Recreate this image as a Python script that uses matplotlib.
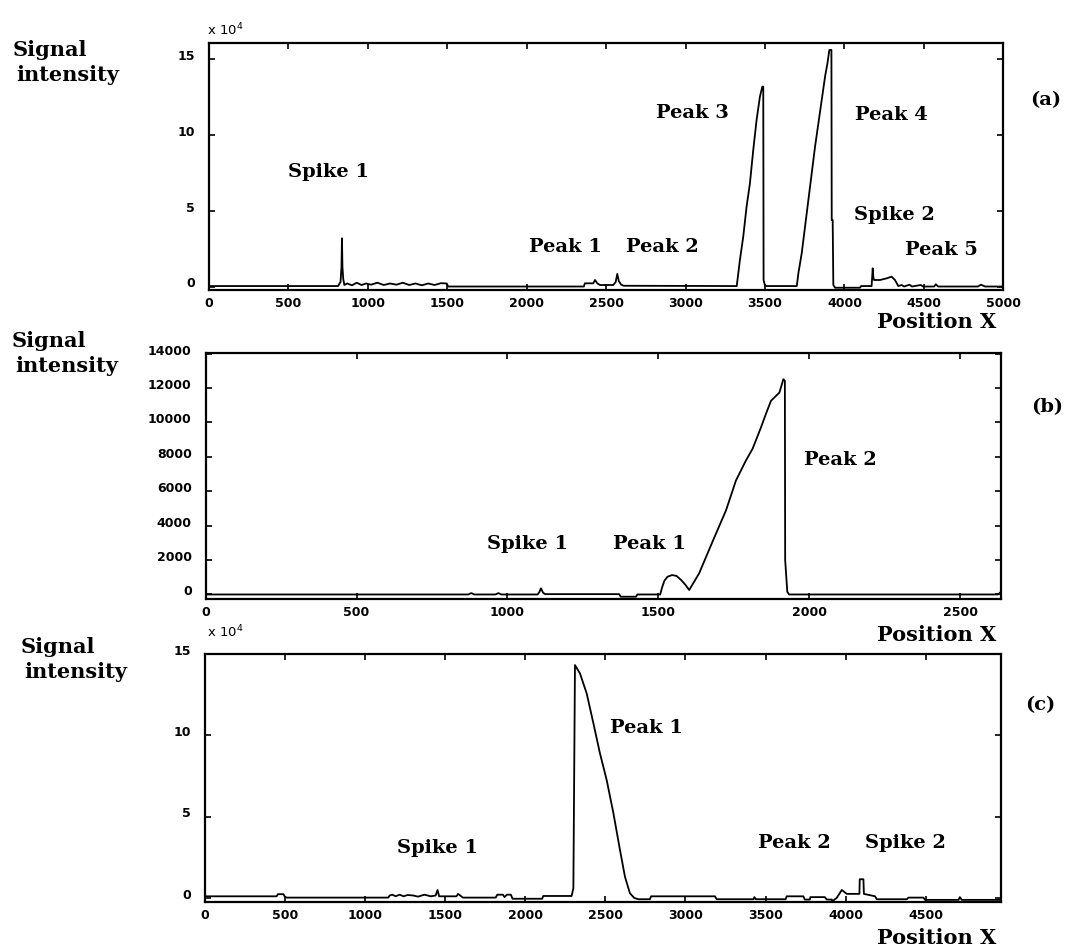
import matplotlib
matplotlib.use("Agg")
import matplotlib.pyplot as plt
import matplotlib.transforms as mtransforms

W, H = 1066, 949

# ---- panel (a): signal intensity in units of 1e4 ----
a_pos = [0, 812, 828, 834, 837, 840, 845, 852, 870, 900, 930, 960, 990, 1020,
         1060, 1100, 1140, 1180, 1220, 1260, 1300, 1340, 1380, 1420, 1460, 1497,
         1505, 2360, 2366, 2419, 2430, 2445, 2461, 2545, 2560, 2570, 2580, 2595,
         2610, 3322, 3342, 3363, 3384, 3405, 3426, 3447, 3468, 3483, 3489, 3491,
         3500, 3511, 3700, 3710, 3731, 3752, 3773, 3794, 3815, 3836, 3857, 3878,
         3893, 3905, 3918, 3920, 3926, 3930, 3941, 4098, 4105, 4171, 4178, 4182,
         4186, 4224, 4266, 4297, 4318, 4339, 4360, 4375, 4410, 4425, 4480, 4495,
         4565, 4575, 4590, 4840, 4860, 4885, 5000]
a_sig = [0.03, 0.03, 0.3, 1.3, 3.18, 1.31, 0.5, 0.1, 0.2, 0.08, 0.25, 0.1, 0.2, 0.12,
         0.25, 0.1, 0.2, 0.12, 0.25, 0.1, 0.2, 0.08, 0.2, 0.1, 0.22, 0.2,
         0.0, 0.0, 0.21, 0.21, 0.43, 0.2, 0.1, 0.1, 0.3, 0.83, 0.35, 0.12,
         0.05, 0.03, 1.75, 3.29, 5.27, 6.81, 9.01, 10.99, 12.53, 13.19, 13.19, 0.43,
         0.05, 0.03, 0.03, 0.87, 2.19, 3.95, 5.71, 7.47, 9.23, 10.77, 12.31, 13.85,
         14.73, 15.61, 15.61, 4.39, 4.39, 0.1, -0.08, -0.08, 0.03, 0.03, 1.2, 0.6,
         0.43, 0.43, 0.54, 0.65, 0.43, 0.03, 0.1, 0.0, 0.12, 0.0, 0.1, 0.0,
         0.0, 0.15, 0.0, 0.0, 0.12, 0.0, 0.0]
a_labels = [("Spike 1", 751, 7.58), ("Peak 1", 2246, 2.63), ("Peak 2", 2855, 2.63),
            ("Peak 3", 3044, 11.43), ("Peak 4", 4297, 11.32),
            ("Spike 2", 4312, 4.72), ("Peak 5", 4612, 2.41)]

# ---- panel (b): signal intensity, raw counts ----
b_pos = [0, 870, 880, 890, 960, 970, 980, 1100, 1106, 1111, 1118, 1125, 1370, 1375,
         1426, 1430, 1506, 1512, 1520, 1530, 1545, 1560, 1575, 1590, 1602, 1635,
         1679, 1724, 1757, 1790, 1812, 1840, 1856, 1873, 1901, 1914, 1919, 1920,
         1927, 1933, 2625, 2635]
b_sig = [0, 0, 80, 0, 0, 80, 0, 0, 150, 360, 100, 20, 20, -130,
         -130, 0, 0, 400, 800, 1030, 1130, 1080, 850, 550, 260, 1230,
         3060, 4890, 6630, 7790, 8470, 9720, 10490, 11260, 11740, 12520, 12420, 2000,
         160, 0, 0, 150]
b_labels = [("Spike 1", 1068, 2960), ("Peak 1", 1469, 2960), ("Peak 2", 2102, 7790)]

# ---- panel (c): signal intensity in units of 1e4 ----
c_pos = [0, 447, 455, 490, 497, 509, 1144, 1153, 1170, 1190, 1215, 1240, 1265, 1300,
         1330, 1370, 1410, 1440, 1452, 1462, 1570, 1580, 1600, 1610, 1815, 1825,
         1860, 1870, 1885, 1910, 1920, 2105, 2112, 2289, 2300, 2310, 2341, 2383,
         2425, 2466, 2508, 2550, 2591, 2622, 2653, 2680, 2706, 2778, 2785, 3184,
         3195, 3425, 3430, 3440, 3625, 3632, 3736, 3745, 3776, 3780, 3870, 3882,
         3914, 3917, 3930, 3944, 3976, 4007, 4059, 4086, 4088, 4111, 4114, 4184,
         4194, 4382, 4392, 4486, 4496, 4705, 4713, 4725, 4970]
c_sig = [0.1, 0.1, 0.23, 0.23, 0.1, 0.02, 0.02, 0.15, 0.2, 0.1, 0.2, 0.1, 0.18, 0.15,
         0.08, 0.2, 0.1, 0.15, 0.49, 0.1, 0.1, 0.25, 0.1, 0.02, 0.02, 0.2,
         0.2, 0.05, 0.2, 0.2, -0.05, -0.05, 0.12, 0.12, 0.6, 14.32, 13.81, 12.58,
         10.74, 8.89, 7.25, 5.21, 2.95, 1.31, 0.29, 0.0, -0.08, -0.08, 0.1, 0.1,
         -0.08, -0.08, 0.05, -0.08, -0.08, 0.1, 0.1, -0.1, -0.1, 0.05, 0.05, -0.1,
         -0.1, -0.23, -0.1, 0.0, 0.49, 0.25, 0.25, 0.25, 1.15, 1.15, 0.25, 0.1,
         -0.08, -0.08, 0.02, 0.02, -0.12, -0.12, 0.05, -0.12, -0.12]
c_labels = [("Spike 1", 1450, 3.05), ("Peak 1", 2758, 10.43),
            ("Peak 2", 3678, 3.36), ("Spike 2", 4375, 3.36)]

ann_font = dict(family="DejaVu Serif", weight="bold", fontsize=14)
side_font = dict(family="DejaVu Serif", weight="bold", fontsize=15)


def px(x, y):
    return x / W, 1 - y / H


fig = plt.figure(figsize=(W / 100, H / 100), dpi=100)
# y tick labels sit a little above their ticks in the original
lift = mtransforms.ScaledTranslation(0, 3 / 72, fig.dpi_scale_trans)


def panel(box, pos, sig, labels, xlim, ylim, xticks, yticks, ylabels):
    left, top, right, bottom = box
    ax = fig.add_axes([left / W, 1 - bottom / H, (right - left) / W, (bottom - top) / H])
    ax.plot(pos, sig, color="black", lw=1.3)
    ax.set_xlim(*xlim)
    ax.set_ylim(*ylim)
    ax.set_xticks(xticks)
    ax.set_xticklabels([str(t) for t in xticks])
    ax.set_yticks(yticks)
    ax.set_yticklabels(ylabels)
    for s in ax.spines.values():
        s.set_linewidth(1.6)
    ax.tick_params(direction="in", length=4, width=1.2, top=True, right=True)
    ax.tick_params(axis="x", pad=5)
    ax.tick_params(axis="y", pad=10)
    for lbl in ax.get_xticklabels() + ax.get_yticklabels():
        lbl.set_fontfamily("DejaVu Sans")
        lbl.set_fontweight("bold")
        lbl.set_fontsize(9)
    for lbl in ax.get_yticklabels():
        lbl.set_transform(lbl.get_transform() + lift)
    for text, x, y in labels:
        ax.text(x, y, text, ha="center", va="center", **ann_font)
    return ax


panel((209, 43.3, 1003.3, 290), a_pos, a_sig, a_labels,
      (0, 5000), (-0.23, 16.05), list(range(0, 5001, 500)),
      [0, 5, 10, 15], ["0", "5", "10", "15"])
panel((205.6, 353, 1001, 599.3), b_pos, b_sig, b_labels,
      (0, 2635), (-280, 14040), list(range(0, 2501, 500)),
      list(range(0, 14001, 2000)), [str(v) for v in range(0, 14001, 2000)])
panel((205, 654, 1001, 902), c_pos, c_sig, c_labels,
      (0, 4970), (-0.25, 15.0), list(range(0, 4501, 500)),
      [0, 5, 10, 15], ["0", "5", "10", "15"])

# y-axis titles
for top_y, left_x in [(50, 13), (341, 12), (647, 21)]:
    fig.text(*px(left_x, top_y), "Signal", ha="left", va="center", **side_font)
    fig.text(*px(left_x + 3, top_y + 25), "intensity", ha="left", va="center", **side_font)

# x-axis titles
for y in [322, 635, 938]:
    fig.text(*px(937, y), "Position X", ha="center", va="center", **side_font)

# panel tags
for tag, x, y in [("(a)", 1046, 100), ("(b)", 1047, 407), ("(c)", 1040, 705)]:
    fig.text(*px(x, y), tag, ha="center", va="center", **ann_font)

# multiplier notes
for y in [30, 632]:
    fig.text(*px(207, y), r"x 10$^4$", ha="left", va="center",
             family="DejaVu Sans", fontsize=9.5)

fig.savefig("out.png", dpi=100)
